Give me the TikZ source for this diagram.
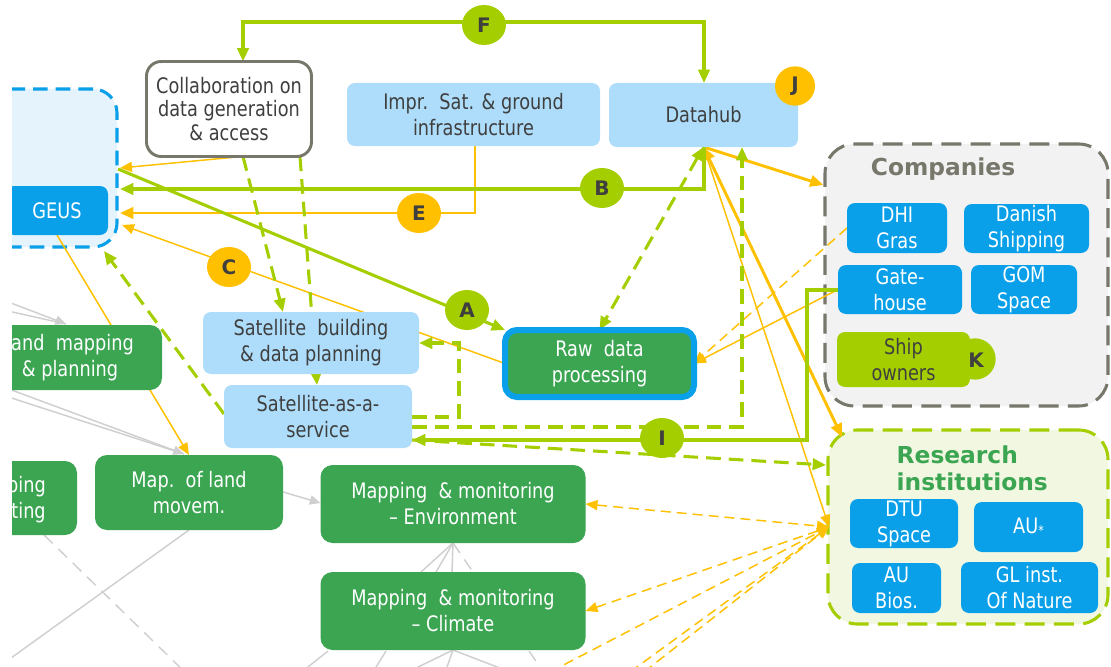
\documentclass[tikz,border=0pt]{standalone}
\usepackage{fontspec}
\setmainfont[FakeStretch=0.83]{DejaVu Sans}
\newfontfamily\plainfont{DejaVu Sans}
\usetikzlibrary{arrows.meta,shapes.geometric}
\definecolor{lime}{HTML}{A5CE00}
\definecolor{orng}{HTML}{FFC000}
\definecolor{dgreen}{HTML}{3BA552}
\definecolor{bblue}{HTML}{0AA0E9}
\definecolor{lblue}{HTML}{ADDDFA}
\definecolor{dgray}{HTML}{77776B}
\definecolor{txt}{HTML}{3F3F3F}
\definecolor{lgray}{HTML}{CFCFCF}
\definecolor{cfill}{HTML}{F2F2F2}
\definecolor{rfill}{HTML}{F1F7E1}
\definecolor{bfill}{HTML}{E5F3FC}
\pgfdeclarelayer{back}
\pgfdeclarelayer{mid}
\pgfsetlayers{back,mid,main}
\begin{document}
\begin{tikzpicture}[x=0.75pt,y=-0.75pt,
 wd/.style={minimum width=#1*0.75pt},
 ht/.style={minimum height=#1*0.75pt},
 boxbase/.style={rectangle, rounded corners=6pt, inner sep=0pt, outer sep=0pt, align=center, font=\fontsize{16}{19.5}\selectfont},
 lbox/.style={boxbase, fill=lblue, text=txt},
 gbox/.style={boxbase, fill=dgreen, text=white, rounded corners=9pt},
 cbox/.style={boxbase, fill=bblue, text=white},
 badge/.style={ellipse, inner sep=0pt, minimum width=33pt, minimum height=30pt, text=txt, font=\plainfont\bfseries\fontsize{15}{15}\selectfont},
 gline/.style={draw=lime, line width=2.3pt, >={Triangle[length=10pt,width=8.5pt]}},
 gdash/.style={gline, dash pattern=on 11pt off 6pt},
 othick/.style={draw=orng, line width=2.2pt, >={Triangle[length=10pt,width=8.5pt]}},
 othin/.style={draw=orng, line width=1.1pt, >={Triangle[length=9pt,width=7.5pt]}},
 odash/.style={othin, dash pattern=on 7.5pt off 4.5pt},
 grayl/.style={draw=lgray, line width=1.1pt, >={Triangle[length=8pt,width=7pt]}},
 graydash/.style={grayl, dash pattern=on 9pt off 6pt},
 container/.style={rectangle, inner sep=0pt, line width=2.3pt, rounded corners=22pt, dash pattern=on 15pt off 7pt},
]
\useasboundingbox (0,0) rectangle (1111,667);
\clip (12,0) rectangle (1111,667);

% ---------- containers ----------
\begin{pgfonlayer}{back}
\clip (12,0) rectangle (1111,667);
\node[container, draw=bblue, fill=bfill, rounded corners=18pt, dash pattern=on 11pt off 6pt, wd=157, ht=158] (leftbox) at (38.5,168) {};
\node[container, draw=dgray, fill=cfill, wd=283, ht=262] (comp) at (966.5,275) {};
\node[container, draw=lime, fill=rfill, wd=280, ht=194] (res) at (968,527) {};
\end{pgfonlayer}

\node[text=dgray, font=\plainfont\bfseries\fontsize{17.5}{17.5}\selectfont] (comptitle) at (943,169) {Companies};
\node[anchor=west, align=left, text=dgreen, font=\plainfont\bfseries\fontsize{17.5}{20.25}\selectfont] (restitle) at (892,468.5) {Research\\institutions};

% ---------- boxes ----------
\node[cbox, wd=102, ht=49] (geus) at (57,210.5) {GEUS};
\node[boxbase, fill=white, draw=dgray, line width=2.2pt, rounded corners=11pt, text=txt, font=\fontsize{16}{17.8}\selectfont, wd=165, ht=95] (collab) at (229,109) {Collaboration on\\data generation\\\& access};
\node[lbox, wd=253, ht=63] (impr) at (473.5,114.5) {Impr.\ \ Sat. \& ground\\infrastructure};
\node[lbox, wd=189, ht=64] (hub) at (703.5,115) {Datahub};
\node[lbox, wd=216, ht=62] (satb) at (311,343) {Satellite\ \ building\\\& data planning};
\node[lbox, wd=188, ht=63] (saas) at (318,416.5) {Satellite-as-a-\\service};
\node[gbox, draw=bblue, line width=4.5pt, wd=189, ht=67] (raw) at (599.5,363.5) {Raw\ \ data\\processing};
\node[gbox, wd=184, ht=65] (land) at (70,357.5) {land\ \ mapping\\\& planning};
\node[gbox, wd=107, ht=74] (pingbox) at (23.5,498) {};
\node[anchor=east, align=right, text=white, inner sep=0pt, font=\fontsize{16}{19}\selectfont] (pingtxt) at (46,499.5) {ping\\sting};
\node[gbox, wd=188, ht=75] (mapl) at (189,492.5) {Map.\ \ of land\\movem.};
\node[gbox, wd=265, ht=78] (env) at (453,504) {Mapping\ \ \& monitoring\\– Environment};
\node[gbox, wd=265, ht=78] (clim) at (453,611) {Mapping\ \ \& monitoring\\– Climate};

% companies
\node[cbox, wd=100, ht=50] (dhi) at (897,228) {DHI\\Gras};
\node[cbox, wd=125, ht=49] (dansh) at (1026.5,228.5) {Danish\\Shipping};
\node[cbox, wd=124, ht=49] (gate) at (900,289.5) {Gate-\\house};
\node[cbox, wd=106, ht=49] (gom) at (1024,289.5) {GOM\\Space};
\node[badge, fill=lime, minimum width=31pt, minimum height=31pt] (kbadge) at (975,359) {};
\node[boxbase, fill=lime, text=txt, wd=133, ht=55] (ship) at (903.5,359.5) {Ship\\owners};
\node[badge] (ktxt) at (976,360) {K};

% research
\node[cbox, wd=108, ht=49] (dtu) at (904,523.5) {DTU\\Space};
\node[cbox, wd=109, ht=50] (au) at (1028.5,527) {AU{\fontsize{10}{10}\selectfont\raisebox{-0.3ex}{*}}};
\node[cbox, wd=89, ht=50] (aub) at (896.5,588) {AU\\Bios.};
\node[cbox, wd=137, ht=51] (gl) at (1029.5,587.5) {GL inst.\\Of Nature};

% ---------- coordinates ----------
\coordinate (f1) at (243,22);
\coordinate (f2) at (704,22);
\coordinate (b1) at (704,189);
\coordinate (bL) at (120,189);
\coordinate (e1) at (475,213);
\coordinate (eL) at (120,213);
\coordinate (c1) at (242,0);
\coordinate (cL) at (120,168);
\coordinate (aL) at (118,169);
\coordinate (cL2) at (122,225);
\coordinate (d1) at (243,0);
\coordinate (d1e) at (283,0);
\coordinate (d2) at (300,0);
\coordinate (d2e) at (317,0);
\coordinate (gL) at (104,251);
\coordinate (s1) at (0,414);
\coordinate (l1) at (459,417);
\coordinate (l2) at (459,343);
\coordinate (m1) at (742,427);
\coordinate (i1) at (807,290);
\coordinate (i2) at (807,440);
\coordinate (s2) at (0,440);
\coordinate (rs) at (826,465);
\coordinate (co) at (0,185);
\coordinate (rt) at (842,437);
\coordinate (rv) at (829,527);
\coordinate (o1) at (550,672);
\coordinate (o2) at (630,672);
\coordinate (o3) at (644,672);
\coordinate (gx1) at (-10,295);
\coordinate (gx2) at (-10,307);
\coordinate (g0) at (66,324);
\coordinate (gx3) at (-10,382);
\coordinate (gx4) at (-10,391);
\coordinate (g1) at (184,454);
\coordinate (my) at (0,492);
\coordinate (ey) at (0,503);
\coordinate (pd) at (44,0);
\coordinate (pdE) at (190,677);
\coordinate (mlE) at (-5,669.5);
\coordinate (t1) at (421,572);
\coordinate (t2) at (436,572);
\coordinate (t3) at (452,572);
\coordinate (t4) at (473,572);
\coordinate (u1s) at (328,651);
\coordinate (u1e) at (303,671);
\coordinate (u2s) at (386,651);
\coordinate (u2e) at (373,672);
\coordinate (u3) at (412,670);
\coordinate (u4) at (446,670);
\coordinate (u5) at (505,670);
\coordinate (u6s) at (529,651);
\coordinate (u6e) at (542,670);

% ---------- connectors ----------
\begin{pgfonlayer}{mid}
\clip (12,0) rectangle (1111,667);
% gray background links
\draw[grayl,->] (gx1) -- (g0);
\draw[grayl] (gx2) -- (g0);
\draw[grayl,->] (gx3) -- (g1);
\draw[grayl] (gx4) -- (g1);
\draw[grayl,->] (mapl.east |- my) -- (env.west |- ey);
\draw[graydash] (pingbox.south -| pd) -- (pdE);
\draw[grayl] (mapl.south) -- (mlE);
\draw[grayl] (env.south) -- (t1);
\draw[grayl] (env.south) -- (t2);
\draw[grayl] (env.south) -- (t3);
\draw[graydash] (env.south) -- (t4);
\draw[grayl] (u1s) -- (u1e);
\draw[grayl] (u2s) -- (u2e);
\draw[grayl] (clim.south) -- (u3);
\draw[grayl] (clim.south) -- (u4);
\draw[grayl] (clim.south) -- (u5);
\draw[graydash] (u6s) -- (u6e);
% orange
\draw[othin,->] (geus.south) -- (mapl.north);
\draw[othin,->] (collab.south -| c1) -- (cL);
\draw[othin,->] (raw.west) -- (cL2);
\draw[othick,->] (impr.south -| e1) -- (e1) -- (eL);
\draw[othick,->] (hub.south) -- (comp.west |- co);
\draw[othick,<->] (hub.south) -- (rt);
\draw[othin,->] (hub.south) -- (rv);
\draw[odash,->] (dhi.west) -- (raw.east);
\draw[othin,->] (gate.west) -- (raw.east);
\draw[odash,<->] (env.east) -- (rv);
\draw[odash,<-] (clim.east) -- (rv);
\draw[odash,->] (o1) -- (rv);
\draw[odash,->] (o2) -- (rv);
\draw[odash,->] (o3) -- (rv);
% green
\draw[gline,<->] (collab.north -| f1) -- (f1) -- (f2) -- (hub.north -| f2);
\draw[gline,->] (hub.south -| b1) -- (b1) -- (bL);
\draw[gline,->] (aL) -- (raw.north west);
\draw[gdash,->] (collab.south -| d1) -- (satb.north -| d1e);
\draw[gdash,->] (collab.south -| d2) -- (saas.north -| d2e);
\draw[gdash,->] (saas.west |- s1) -- (gL);
\draw[gdash,->] (saas.east |- l1) -- (l1) -- (l2) -- (satb.east |- l2);
\draw[gdash,->] (saas.east |- m1) -- (m1) -- (hub.south -| m1);
\draw[gline,->] (gate.west |- i1) -- (i1) -- (i2) -- (saas.east |- i2);
\draw[gdash,->] (saas.east |- s2) -- (rs);
\draw[gdash,<->] (hub.south) -- (raw.north);
\end{pgfonlayer}

% ---------- badges ----------
\node[badge, fill=lime] (F) at (484,25) {F};
\node[badge, fill=lime] (B) at (602,188) {B};
\node[badge, fill=orng] (E) at (419,213) {E};
\node[badge, fill=lime] (A) at (467,310) {A};
\node[badge, fill=orng] (C) at (229,267) {C};
\node[badge, fill=lime] (I) at (662,438) {I};
\node[badge, fill=orng, minimum width=30pt, minimum height=29.5pt] (J) at (795,86) {J};
\end{tikzpicture}
\end{document}
